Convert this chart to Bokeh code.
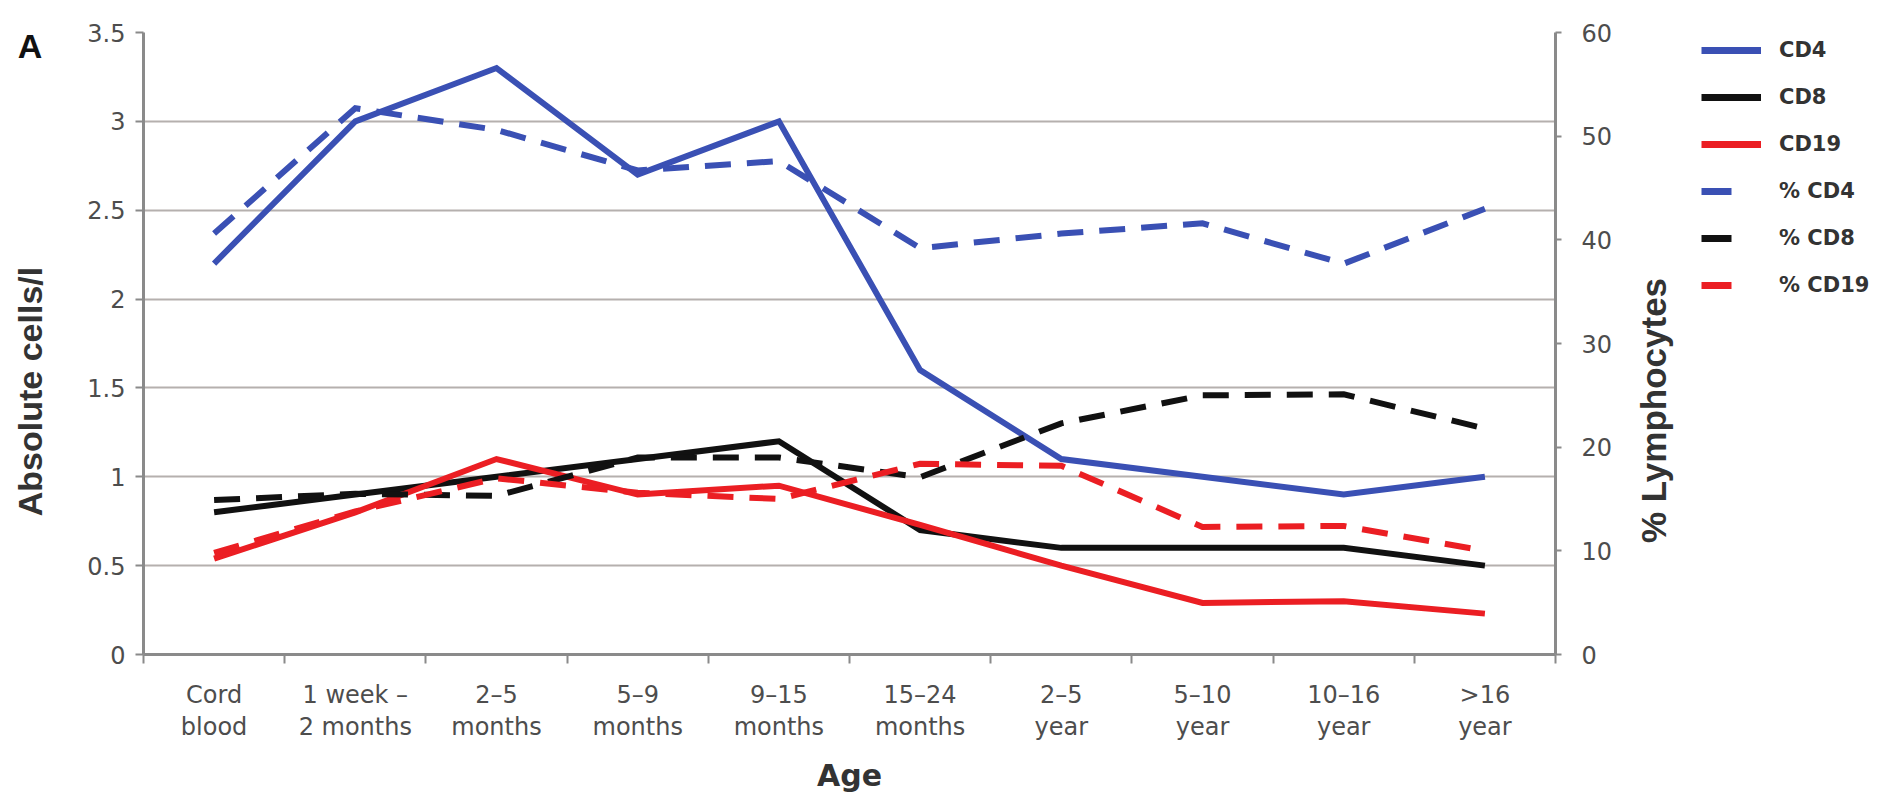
import math
from bokeh.plotting import figure
from bokeh.layouts import row
from bokeh.models import Range1d, LinearAxis, FixedTicker, Legend, LegendItem, Label, Grid
from bokeh.embed import file_html
from bokeh.resources import INLINE

# ---- data ----
categories = ["Cord\nblood", "1 week –\n2 months", "2–5\nmonths", "5–9\nmonths", "9–15\nmonths",
              "15–24\nmonths", "2–5\nyear", "5–10\nyear", "10–16\nyear", ">16\nyear"]
cd4 = [2.2, 3.0, 3.3, 2.7, 3.0, 1.6, 1.1, 1.0, 0.9, 1.0]
cd8 = [0.8, 0.9, 1.0, 1.1, 1.2, 0.7, 0.6, 0.6, 0.6, 0.5]
cd19 = [0.54, 0.8, 1.1, 0.9, 0.95, 0.73, 0.5, 0.29, 0.3, 0.23]
pct_cd4 = [40.6, 52.7, 50.6, 46.7, 47.6, 39.2, 40.6, 41.6, 37.7, 43.0]
pct_cd8 = [14.9, 15.5, 15.3, 19.0, 19.0, 17.1, 22.3, 25.0, 25.1, 21.8]
pct_cd19 = [9.8, 13.8, 17.0, 15.6, 15.0, 18.4, 18.2, 12.3, 12.4, 10.0]
left_ticks = [0, 0.5, 1, 1.5, 2, 2.5, 3, 3.5]
right_ticks = [0, 10, 20, 30, 40, 50, 60]
series_names = ["CD4", "CD8", "CD19", "% CD4", "% CD8", "% CD19"]

BLUE = "#3a50b4"
BLACK = "#111111"
RED = "#eb1e23"
FONT = "DejaVu Sans"
TFONT = "Liberation Sans"
AX_COLOR = "#8a8a8a"
LBL_COLOR = "#4d4d4d"
TITLE_COLOR = "#333333"

H = 795
W_LEFT, W_MAIN, W_SIDE = 60, 1560, 258
FRAME_TOP, FRAME_BOTTOM = 32, 654


def bare(width):
    # frames of plots in a row are aligned with the main chart's frame,
    # so the y range spans that frame (page pixel coordinates, top to bottom)
    f = figure(width=width, height=H, x_range=Range1d(0, width),
               y_range=Range1d(FRAME_BOTTOM, FRAME_TOP),
               output_backend="svg", toolbar_location=None,
               x_axis_type=None, y_axis_type=None)
    f.outline_line_color = None
    f.min_border_left = f.min_border_right = f.min_border_top = f.min_border_bottom = 0
    f.background_fill_color = "white"
    f.border_fill_color = "white"
    return f


# ---------- left strip: panel letter + left axis title ----------
left = bare(W_LEFT)
left.add_layout(Label(x=29.5, y=45, text="A", text_font=TFONT, text_font_size="34px",
                      text_font_style="bold", text_color="#111111",
                      text_baseline="middle", text_align="center"))
left.add_layout(Label(x=29.5, y=391, text="Absolute cells/l", text_font=TFONT,
                      text_font_size="34px", text_font_style="bold", text_color=TITLE_COLOR,
                      angle=math.pi / 2, text_baseline="middle", text_align="center"))

# ---------- main chart ----------
n = len(categories)
xs = [i + 0.5 for i in range(n)]

p = figure(width=W_MAIN, height=H, x_range=Range1d(0, n), y_range=Range1d(0, 3.5),
           output_backend="svg", toolbar_location=None,
           x_axis_type=None, y_axis_type=None)
p.extra_y_ranges = {"pct": Range1d(0, 60)}
p.outline_line_color = None
p.min_border_left = 143 - W_LEFT
p.min_border_top = FRAME_TOP
p.min_border_bottom = H - FRAME_BOTTOM
p.min_border_right = W_LEFT + W_MAIN - 1555
p.background_fill_color = "white"
p.border_fill_color = "white"

grid = Grid(dimension=1, ticker=FixedTicker(ticks=left_ticks),
            grid_line_color="#b5b0ae", grid_line_width=2)
p.add_layout(grid, "center")

# bottom axis: labels at category centres, ticks at category boundaries
xaxis = LinearAxis(ticker=FixedTicker(ticks=xs, minor_ticks=list(range(n + 1))),
                   major_label_overrides={x: c for x, c in zip(xs, categories)})
xaxis.major_tick_out = 0
xaxis.major_tick_in = 0
xaxis.minor_tick_out = 9
xaxis.minor_tick_in = 0
xaxis.minor_tick_line_color = AX_COLOR
xaxis.minor_tick_line_width = 2
xaxis.axis_line_color = AX_COLOR
xaxis.axis_line_width = 3
xaxis.major_label_text_font = FONT
xaxis.major_label_text_font_size = "24px"
xaxis.major_label_text_color = LBL_COLOR
xaxis.major_label_text_line_height = 1.15
xaxis.major_label_standoff = 17
xaxis.axis_label = "Age"
xaxis.axis_label_text_font = FONT
xaxis.axis_label_text_font_size = "30px"
xaxis.axis_label_text_font_style = "bold"
xaxis.axis_label_text_color = TITLE_COLOR
xaxis.axis_label_standoff = 14
p.add_layout(xaxis, "below")

# left axis
yaxis = LinearAxis(ticker=FixedTicker(ticks=left_ticks),
                   major_label_overrides={0: "0", 1: "1", 2: "2", 3: "3"})
yaxis.major_tick_out = 8
yaxis.major_tick_in = 0
yaxis.minor_tick_out = 0
yaxis.minor_tick_in = 0
yaxis.major_tick_line_color = AX_COLOR
yaxis.major_tick_line_width = 2
yaxis.axis_line_color = AX_COLOR
yaxis.axis_line_width = 3
yaxis.major_label_text_font = FONT
yaxis.major_label_text_font_size = "24px"
yaxis.major_label_text_color = LBL_COLOR
yaxis.major_label_standoff = 10
p.add_layout(yaxis, "left")

# right axis
raxis = LinearAxis(y_range_name="pct", ticker=FixedTicker(ticks=right_ticks))
raxis.major_tick_out = 6
raxis.major_tick_in = 0
raxis.minor_tick_out = 0
raxis.minor_tick_in = 0
raxis.major_tick_line_color = AX_COLOR
raxis.major_tick_line_width = 2
raxis.axis_line_color = AX_COLOR
raxis.axis_line_width = 3
raxis.major_label_text_font = FONT
raxis.major_label_text_font_size = "24px"
raxis.major_label_text_color = LBL_COLOR
raxis.major_label_standoff = 20
p.add_layout(raxis, "right")

LW = 6
DASH = "26 16"
styles = [(BLUE, "solid"), (BLACK, "solid"), (RED, "solid"),
          (BLUE, DASH), (BLACK, DASH), (RED, DASH)]
series = [cd4, cd8, cd19, pct_cd4, pct_cd8, pct_cd19]
for k, (vals, (col, dash)) in enumerate(zip(series, styles)):
    kw = {"y_range_name": "pct"} if k >= 3 else {}
    p.line(xs, vals, line_color=col, line_width=LW, line_dash=dash, line_join="miter", **kw)

# ---------- right strip: right axis title + legend ----------
side = bare(W_SIDE)
side.add_layout(Label(x=1653 - 1620, y=410, text="% Lymphocytes", text_font=TFONT,
                      text_font_size="35px", text_font_style="bold", text_color=TITLE_COLOR,
                      angle=math.pi / 2, text_baseline="middle", text_align="center"))

items = []
leg_styles = [(BLUE, "solid"), (BLACK, "solid"), (RED, "solid"),
              (BLUE, "30 60"), (BLACK, "30 60"), (RED, "30 60")]
for name, (col, dash) in zip(series_names, leg_styles):
    # proxy renderer: its points lie outside the visible range, only its legend glyph shows
    r = side.line([-200, -190], [-200, -200], line_color=col, line_width=7, line_dash=dash)
    items.append(LegendItem(label=name, renderers=[r]))
legend = Legend(items=items, location=(1705 - 4 - 1620, 357))
legend.glyph_width = 60
legend.glyph_height = 20
legend.label_height = 20
legend.spacing = 23
legend.label_standoff = 18
legend.padding = 4
legend.margin = 0
legend.border_line_color = None
legend.background_fill_alpha = 0
legend.label_text_font = FONT
legend.label_text_font_size = "21px"
legend.label_text_font_style = "bold"
legend.label_text_color = TITLE_COLOR
side.add_layout(legend, "center")

layout = row(left, p, side)
open("out.html", "w").write(file_html(layout, INLINE))
